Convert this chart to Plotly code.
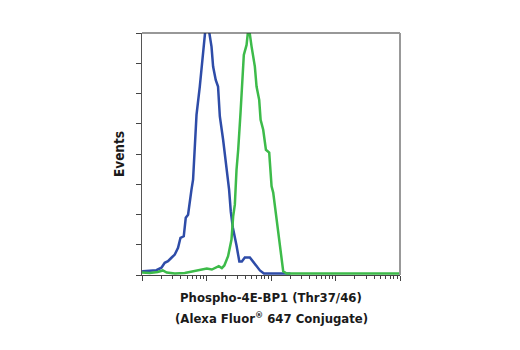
import plotly.graph_objects as go

# Fluorescence intensity (log axis, 10^0 .. 10^4) and event counts
blue_x = [1.0, 1.04, 1.67, 2.0, 2.25, 2.53, 2.86, 3.22, 3.62, 3.95, 4.44, 4.77, 5.18, 5.50, 5.85,
          6.19, 6.58, 7.0, 7.87, 8.85, 9.75, 10.6, 11.96, 12.66, 13.9, 15.1, 16.1, 18.1, 20.5,
          22.4, 23.8, 25.6, 29.2, 32.3, 35.3, 39.3, 47.0, 56.2, 67.3, 77.6, 100, 150, 200]
blue_y = [2.2, 2.5, 3.2, 4.8, 8.1, 9.1, 11.4, 13.5, 18.0, 24.6, 25.6, 37.8, 39.9, 49.8, 56.4,
          63.0, 89.4, 105.9, 124.6, 148.8, 165, 165, 151.0, 137.8, 129.0, 124.6, 104.8, 89.4, 69.6,
          56.4, 41.9, 31.4, 19.5, 8.9, 8.9, 11.6, 11.6, 7.6, 3.0, 1.0, 1.0, 1.0, 1.0]

green_x = [1.0, 1.32, 1.75, 2.10, 2.42, 3.22, 4.60, 6.58, 8.45, 10.1, 12.1, 13.9, 15.5, 17.3, 18.9,
           21.6, 23.0, 24.4, 25.9, 27.5, 29.2, 31.0, 33.7, 36.2, 37.9, 41.8, 43.5, 45.0, 50.0, 56.2,
           59.7, 65.6, 69.0, 75.7, 83.4, 93.8, 96.2, 102.1, 108.2, 115.0, 129.4, 146.2, 154.6,
           174.6, 300, 600, 1000, 2000, 5000, 10000]
green_y = [1.65, 1.3, 2.0, 3.0, 1.65, 1.0, 1.3, 2.6, 3.6, 4.3, 3.6, 5.0, 5.9, 4.6, 6.3,
           12.4, 19.0, 23.4, 38.8, 46.5, 69.6, 82.8, 107.3, 133.7, 145.5, 152.1, 165, 165, 151.0, 137.8,
           124.6, 115.8, 102.6, 96.0, 82.8, 80.9, 74.3, 58.6, 54.5, 45.4, 25.6, 10.2, 2.5,
           1.0, 1.0, 1.0, 1.0, 1.0, 1.0, 1.0]

x_title_1 = "Phospho-4E-BP1 (Thr37/46)"
x_title_2 = "(Alexa Fluor<sup>®</sup> 647 Conjugate)"
y_title = "Events"

minor_vals = [m * 10 ** d for d in range(4) for m in range(2, 10)]

FONT = "DejaVu Sans Condensed, Liberation Sans Narrow, sans-serif"

fig = go.Figure()
fig.add_trace(go.Scatter(x=blue_x, y=blue_y, mode="lines",
                         line=dict(color="#2e4ca8", width=2.5), showlegend=False))
fig.add_trace(go.Scatter(x=green_x, y=green_y, mode="lines",
                         line=dict(color="#3dbb4a", width=2.5), showlegend=False))

fig.update_layout(
    width=520, height=350,
    margin=dict(l=142, r=120, t=33, b=75),
    paper_bgcolor="white", plot_bgcolor="white",
    font=dict(family=FONT, color="#1a1a1a"),
    xaxis=dict(type="log", range=[0, 4], showgrid=False, zeroline=False,
               showline=True, linecolor="#444", linewidth=1.2,
               ticks="outside", ticklen=5, tickcolor="#444", tickwidth=1,
               tickvals=[1, 10, 100, 1000, 10000], showticklabels=False,
               minor=dict(tickvals=minor_vals, ticks="outside", ticklen=3,
                          tickcolor="#444", tickwidth=1, showgrid=False)),
    yaxis=dict(range=[0, 160], showgrid=False, zeroline=False,
               showline=True, linecolor="#555", linewidth=1.2,
               ticks="outside", ticklen=5, tickcolor="#444", tickwidth=1,
               dtick=20, showticklabels=False,
               title=dict(text="<b>" + y_title + "</b>", font=dict(size=13.5, family=FONT),
                          standoff=8)),
    shapes=[
        dict(type="line", xref="paper", yref="paper", x0=0, x1=1, y0=1, y1=1,
             line=dict(color="#333", width=1.2)),
        dict(type="line", xref="paper", yref="paper", x0=1, x1=1, y0=0, y1=1,
             line=dict(color="#999", width=2)),
    ],
    annotations=[
        dict(text="<b>" + x_title_1 + "</b>", xref="paper", yref="paper", x=0.5, y=0,
             yshift=-22, xanchor="center", yanchor="middle", showarrow=False,
             font=dict(size=13, family=FONT)),
        dict(text="<b>" + x_title_2 + "</b>", xref="paper", yref="paper", x=0.5, y=0,
             yshift=-43, xanchor="center", yanchor="middle", showarrow=False,
             font=dict(size=13, family=FONT)),
    ],
)

fig.write_html("out.html")
